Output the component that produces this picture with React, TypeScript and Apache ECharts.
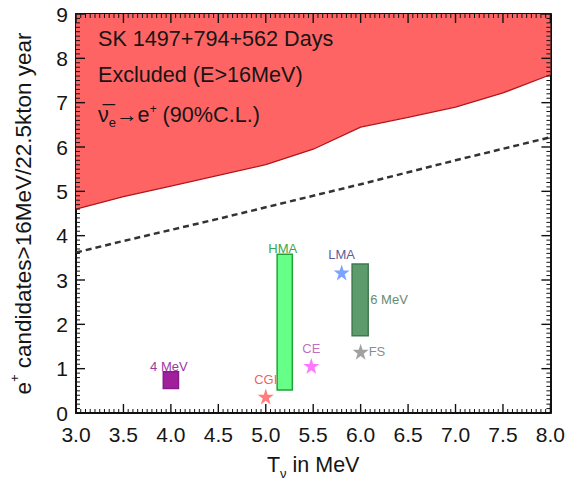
import React, { useEffect, useRef } from "react";
import * as echarts from "echarts";

// ---- data ----
const energies = [3.0, 3.5, 4.0, 4.5, 5.0, 5.5, 6.0, 6.5, 7.0, 7.5, 8.0];
const excludedLimit = [4.6, 4.88, 5.12, 5.36, 5.6, 5.95, 6.45, 6.67, 6.9, 7.22, 7.63];
const sensitivity = [3.62, 3.88, 4.13, 4.38, 4.64, 4.9, 5.16, 5.43, 5.7, 5.96, 6.22];

const starNames = ["CGI", "CE", "LMA", "FS"];
const starX = [5.0, 5.48, 5.8, 6.0];
const starY = [0.37, 1.06, 3.17, 1.38];

const boxNames = ["4 MeV", "HMA", "6 MeV"];
const boxXMin = [3.92, 5.12, 5.91];
const boxXMax = [4.08, 5.28, 6.08];
const boxYMin = [0.55, 0.52, 1.74];
const boxYMax = [0.93, 3.58, 3.36];

const xTicks = { min: 3, max: 8, step: 0.5, minorPerMajor: 10 };
const yTicks = { min: 0, max: 9, step: 1, minorPerMajor: 10 };

// ---- styles ----
const FONT = "'Liberation Sans', Arial, Helvetica, sans-serif";
const starColors = ["#ff5c5c", "#ff55ff", "#5b8cff", "#8a8a8a"];
const starLabelColors = ["#e03a3a", "#b048b0", "#2e2e80", "#5f6f80"];
const starLabelPos = ["top", "top", "top", "right"];
const boxFill = ["#a0209c", "#66ff88", "#5c9c6c"];
const boxStroke = ["#8a1a88", "#22a33a", "#3f7a4e"];
const boxLabelColors = ["#9a3aa0", "#3aa84a", "#6a8a70"];
const boxLabelPos = ["top", "top", "right"];
const MAJOR_LEN = 9;
const MINOR_LEN = 4;

const STAR =
  "path://M12 0 L14.9 8.6 L24 8.6 L16.6 14 L19.4 22.8 L12 17.4 L4.6 22.8 L7.4 14 L0 8.6 L9.1 8.6 Z";

// frame tick marks on all four sides, pointing inwards, drawn as thin rect symbols
function buildTickMarks() {
  const out: any[] = [];
  const nx = Math.round((xTicks.max - xTicks.min) / xTicks.step) * xTicks.minorPerMajor;
  for (let i = 0; i <= nx; i++) {
    const v = xTicks.min + (i * xTicks.step) / xTicks.minorPerMajor;
    const major = i % xTicks.minorPerMajor === 0;
    const len = major ? MAJOR_LEN : MINOR_LEN;
    const w = major ? 1.4 : 1;
    out.push({ value: [v, yTicks.min], symbolSize: [w, len], symbolOffset: [0, -len / 2] });
    out.push({ value: [v, yTicks.max], symbolSize: [w, len], symbolOffset: [0, len / 2] });
  }
  const ny = Math.round((yTicks.max - yTicks.min) / yTicks.step) * yTicks.minorPerMajor;
  for (let i = 0; i <= ny; i++) {
    const v = yTicks.min + (i * yTicks.step) / yTicks.minorPerMajor;
    const major = i % yTicks.minorPerMajor === 0;
    const len = major ? MAJOR_LEN : MINOR_LEN;
    const w = major ? 1.4 : 1;
    out.push({ value: [xTicks.min, v], symbolSize: [len, w], symbolOffset: [len / 2, 0] });
    out.push({ value: [xTicks.max, v], symbolSize: [len, w], symbolOffset: [-len / 2, 0] });
  }
  return out;
}

function makeAxis(position: string, min: number, max: number, step: number, extra: any) {
  return {
    type: "value",
    position,
    min,
    max,
    interval: step,
    splitLine: { show: false },
    axisLine: { show: true, onZero: false, lineStyle: { color: "#111", width: 2 } },
    axisTick: { show: false },
    minorTick: { show: false },
    ...extra,
  };
}

export default function App() {
  const ref = useRef<HTMLDivElement>(null);
  useEffect(() => {
    if (!ref.current) return;
    const chart = echarts.init(ref.current, undefined, { renderer: "svg" });

    chart.setOption({
      animation: false,
      grid: { left: 75, right: 16, top: 14, bottom: 80 },
      xAxis: [
        makeAxis("bottom", xTicks.min, xTicks.max, xTicks.step, {
          axisLabel: {
            fontSize: 21,
            fontFamily: FONT,
            color: "#151515",
            margin: 11,
            formatter: (v: number) => v.toFixed(1),
          },
          name: "{t|T}{s|ν}{t| in MeV}",
          nameLocation: "middle",
          nameGap: 41,
          nameTextStyle: {
            rich: {
              t: { fontSize: 21.5, fontFamily: FONT, color: "#151515", lineHeight: 26, verticalAlign: "top" },
              s: { fontSize: 13, fontFamily: FONT, color: "#151515", lineHeight: 26, verticalAlign: "bottom" },
            },
          },
        }),
        makeAxis("top", xTicks.min, xTicks.max, xTicks.step, { axisLabel: { show: false } }),
      ],
      yAxis: [
        makeAxis("left", yTicks.min, yTicks.max, yTicks.step, {
          axisLabel: { fontSize: 21, fontFamily: FONT, color: "#151515", margin: 8 },
          name: "{t|e}{s|+}{t| candidates>16MeV/22.5kton year}",
          nameLocation: "middle",
          nameGap: 41,
          nameTextStyle: {
            rich: {
              t: { fontSize: 22.5, fontFamily: FONT, color: "#151515", lineHeight: 27, verticalAlign: "bottom" },
              s: { fontSize: 13, fontFamily: FONT, color: "#151515", lineHeight: 27, verticalAlign: "top" },
            },
          },
        }),
        makeAxis("right", yTicks.min, yTicks.max, yTicks.step, { axisLabel: { show: false } }),
      ],
      graphic: [
        {
          type: "text",
          x: 98,
          y: 38,
          z: 20,
          style: { text: "SK 1497+794+562 Days", fontSize: 21.6, fontFamily: FONT, fill: "#151515", verticalAlign: "middle" },
        },
        {
          type: "text",
          x: 98,
          y: 74,
          z: 20,
          style: { text: "Excluded (E>16MeV)", fontSize: 21.6, fontFamily: FONT, fill: "#151515", verticalAlign: "middle" },
        },
        {
          type: "text",
          x: 98,
          y: 103,
          z: 20,
          style: {
            text: "{n|ν\u0305}{b|e}{n|→e}{p|+}{n| (90%C.L.)}",
            fontFamily: FONT,
            fill: "#151515",
            rich: {
              n: { fontSize: 21.6, fontFamily: FONT, fill: "#151515", color: "#151515", lineHeight: 26, verticalAlign: "top" },
              b: { fontSize: 13, fontFamily: FONT, fill: "#151515", color: "#151515", lineHeight: 26, verticalAlign: "bottom" },
              p: { fontSize: 12, fontFamily: FONT, fill: "#151515", color: "#151515", lineHeight: 26, verticalAlign: "top" },
            },
          },
        },
      ],
      series: [
        {
          type: "line",
          name: "Excluded",
          data: energies.map((e, i) => [e, excludedLimit[i]]),
          symbol: "none",
          lineStyle: { color: "#b3161a", width: 1.3 },
          areaStyle: { color: "#ff6464", opacity: 1, origin: "end" },
          z: 1,
        },
        {
          type: "line",
          name: "Sensitivity",
          data: energies.map((e, i) => [e, sensitivity[i]]),
          symbol: "none",
          lineStyle: { color: "#333", width: 2.5, type: [6, 4] },
          z: 2,
        },
        {
          type: "custom",
          name: "Models (band)",
          data: boxNames.map((n, i) => [boxXMin[i], boxXMax[i], boxYMin[i], boxYMax[i]]),
          renderItem: (params: any, api: any) => {
            const i = params.dataIndex;
            const p0 = api.coord([api.value(0), api.value(3)]);
            const p1 = api.coord([api.value(1), api.value(2)]);
            const w = p1[0] - p0[0];
            const h = p1[1] - p0[1];
            const label =
              boxLabelPos[i] === "top"
                ? { x: (p0[0] + p1[0]) / 2 - 2, y: p0[1] + 1, align: "center", verticalAlign: "bottom" }
                : { x: p1[0] + 2, y: (p0[1] + p1[1]) / 2, align: "left", verticalAlign: "middle" };
            return {
              type: "group",
              children: [
                {
                  type: "rect",
                  shape: { x: p0[0], y: p0[1], width: w, height: h },
                  style: { fill: boxFill[i], stroke: boxStroke[i], lineWidth: 1.5 },
                },
                {
                  type: "text",
                  x: label.x,
                  y: label.y,
                  style: {
                    text: boxNames[i],
                    fontSize: 13,
                    fontFamily: FONT,
                    fill: boxLabelColors[i],
                    align: label.align,
                    verticalAlign: label.verticalAlign,
                  },
                },
              ],
            };
          },
          z: 4,
        },
        {
          type: "scatter",
          name: "Models (point)",
          symbol: STAR,
          symbolSize: 16,
          data: starNames.map((n, i) => ({
            value: [starX[i], starY[i]],
            name: n,
            itemStyle: { color: starColors[i] },
            label: {
              show: true,
              formatter: n,
              position: starLabelPos[i],
              distance: starLabelPos[i] === "top" ? 3 : 0,
              color: starLabelColors[i],
              fontSize: 13,
              fontFamily: FONT,
            },
          })),
          z: 5,
        },
        {
          type: "scatter",
          name: "frame ticks",
          symbol: "rect",
          silent: true,
          clip: false,
          large: false,
          itemStyle: { color: "#111", opacity: 1 },
          emphasis: { disabled: true },
          label: { show: false },
          data: buildTickMarks(),
          z: 6,
        },
      ],
    });
    return () => chart.dispose();
  }, []);

  return (
    <div
      ref={ref}
      style={{ position: "absolute", left: 0, top: 0, width: 568, height: 493, background: "#fff" }}
    />
  );
}
